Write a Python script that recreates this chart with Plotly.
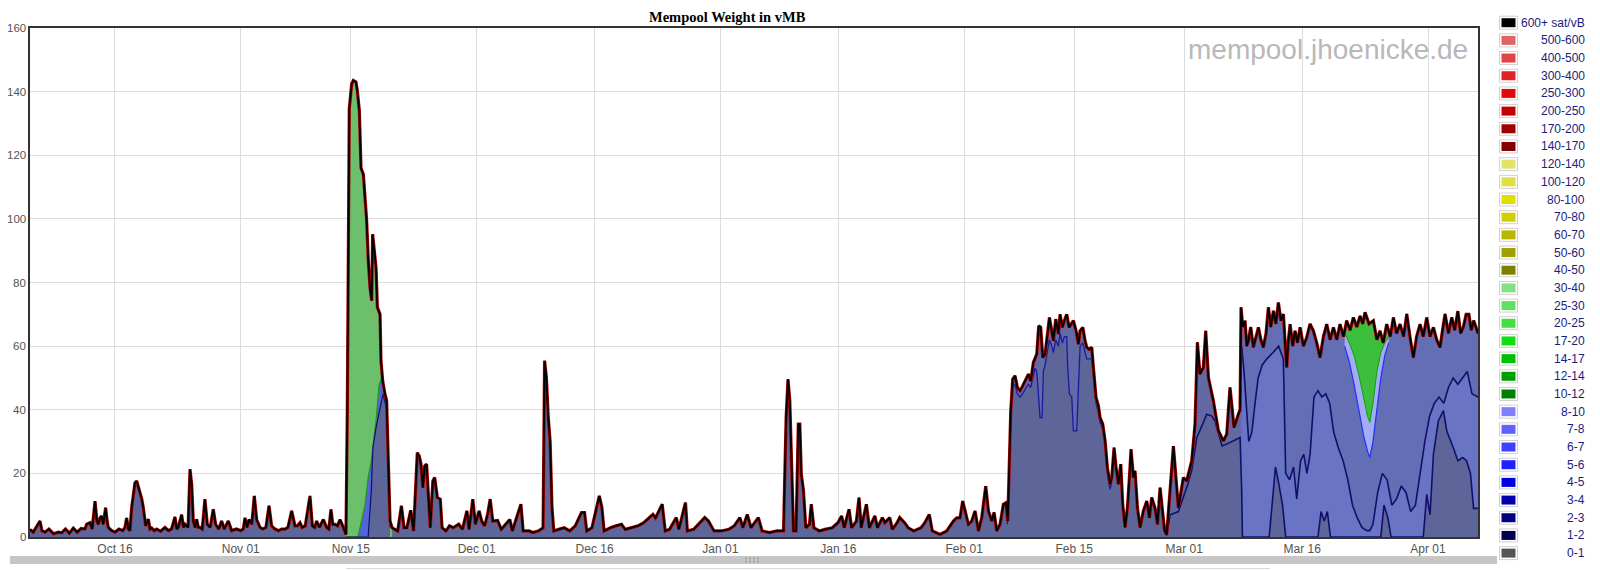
import pandas as pd
import plotly.graph_objects as go

# ---------------- data (days since 2022-10-01, vMB) ----------------
BASE = pd.Timestamp("2022-10-01")

total_day = [4.19,4.6,4.82,5.46,5.7,6.1,6.6,7.2,7.8,8.22,8.7,9.2,9.7,10.2,10.7,11.18,11.4,11.82,12.1,12.46,12.7,12.88,13.1,13.3,13.5,13.81,14.0,14.15,14.57,15.0,15.5,16.0,16.27,16.48,16.7,16.9,17.12,17.54,17.76,18.0,18.18,18.4,18.6,18.9,19.24,19.45,19.66,20.0,20.3,20.8,21.36,21.8,22.2,22.63,22.85,23.05,23.48,23.7,23.9,24.3,24.54,24.75,24.96,25.2,25.38,25.6,25.81,26.1,26.44,26.74,27.1,27.5,27.8,28.2,28.56,28.9,29.41,29.83,30.47,31.0,31.32,31.53,31.8,32.04,32.4,32.72,33.02,33.44,33.8,34.2,34.59,34.92,35.35,35.8,36.2,36.62,37.0,37.47,37.89,38.2,38.53,38.8,39.2,39.8,40.1,40.4,40.65,41.0,41.5,41.92,42.2,42.47,42.7,42.98,43.3,43.62,44.04,
             44.38,44.55,44.68,44.8,45.1,45.31,45.65,45.82,46.08,46.29,46.59,46.8,47.01,47.22,47.43,47.65,47.77,47.94,48.2,48.37,48.71,48.83,49.05,49.34,49.55,49.76,49.98,50.25,50.96,
             51.43,51.76,52.13,52.61,52.98,53.45,53.69,53.92,54.16,54.39,54.63,54.86,55.1,55.43,55.66,56.0,56.37,56.6,57.08,57.55,58.02,58.72,59.19,59.76,60.04,60.51,60.84,61.31,61.64,62.02,62.39,62.72,63.05,63.66,64.13,65.22,65.54,66.63,66.91,67.66,68.13,68.84,69.45,69.64,69.87,70.11,70.34,70.58,70.81,71.43,72.13,72.84,73.54,74.34,74.72,75.0,75.66,76.6,76.93,77.21,78.01,78.72,79.42,79.9,80.84,81.54,82.25,83.42,83.75,84.6,84.98,85.54,86.39,86.72,87.56,87.8,88.6,89.54,90.01,90.48,91.19,92.13,93.07,93.77,94.48,94.86,95.42,95.89,96.83,97.3,98.24,99.18,
             100.03,100.36,100.6,100.83,101.07,101.3,101.63,101.91,102.1,102.29,102.57,102.86,103.33,103.56,103.89,104.6,105.3,106.24,106.95,107.42,107.75,108.36,108.69,109.3,109.63,109.91,110.57,110.95,111.65,111.98,112.6,112.92,113.54,113.87,114.48,114.81,115.42,115.89,116.59,117.53,118.0,118.57,118.95,119.94,120.79,121.64,122.06,122.48,122.82,123.12,123.54,123.97,124.39,124.82,125.24,125.75,126.09,126.51,126.81,127.15,127.57,128.0,128.33,128.55,
             128.72,128.93,129.18,129.48,129.78,130.12,130.45,130.88,131.18,131.47,131.81,132.24,132.49,132.74,133.0,133.3,133.59,133.85,134.14,134.36,134.65,134.99,135.2,135.5,135.75,136.05,136.35,136.6,136.9,137.24,137.54,137.75,138.09,138.38,138.6,138.89,139.23,139.44,139.78,140.08,140.29,140.63,140.93,141.22,141.56,141.78,142.07,142.33,142.62,142.92,143.17,143.47,143.77,144.02,144.23,144.53,144.74,145.04,145.38,145.8,146.23,146.57,146.86,147.29,147.6,147.92,148.2,148.5,148.77,
             149.62,150.25,150.89,151.31,151.95,152.37,152.67,153.0,153.43,153.73,154.07,154.7,155.34,155.98,156.4,156.82,157.33,157.88,158.1,
             158.22,158.45,158.73,158.95,159.16,159.45,159.79,160.1,160.43,160.75,161.06,161.4,161.7,162.0,162.34,162.65,162.97,163.3,163.61,163.85,164.03,164.25,164.46,164.8,165.09,165.4,165.73,166.15,166.57,167.0,167.42,167.85,168.27,168.7,169.12,169.55,169.97,170.4,170.81,171.25,171.66,172.1,172.51,172.95,173.36,173.7,173.99,174.5,175.05,175.5,175.9,176.3,176.75,177.2,177.6,178.0,178.45,178.9,179.3,179.7,180.14,180.55,180.99,181.4,181.84,182.25,182.69,183.1,183.53,183.85,184.17,184.6,185.02,185.4,185.8,186.15,186.5,186.85,187.2,187.5,187.8,188.1,188.36]
total_vmb = [2.4,1.5,2.4,5.0,2.0,1.5,2.5,1.0,1.5,1.3,2.5,1.2,2.8,1.5,2.7,2.5,4.0,4.5,2.5,11.3,5.0,4.0,6.0,6.6,4.0,9.2,5.0,3.0,2.0,1.5,2.5,2.0,3.0,6.0,2.5,2.0,9.2,17.0,17.6,15.5,14.5,12.0,9.2,3.5,5.6,2.5,2.8,2.0,2.5,1.8,3.0,2.0,2.5,6.3,2.5,3.0,7.0,3.0,4.0,3.0,21.3,16.6,5.0,3.0,5.6,3.0,3.0,2.5,11.9,4.0,3.0,8.7,4.0,2.5,5.0,2.5,5.0,2.0,2.5,2.0,2.5,6.0,3.0,5.5,4.0,12.9,5.5,3.0,2.5,3.0,9.8,3.5,2.5,2.0,2.5,2.5,3.0,8.2,3.5,3.5,4.5,3.0,3.5,12.9,3.5,3.0,5.0,3.0,5.5,3.0,2.5,8.7,4.0,4.0,3.5,5.5,3.0,
             0.8,40,110,134.6,142.4,143.5,143.0,140.3,134.0,116.0,114.0,105.7,99.4,86.8,78.5,74.3,95.2,91.0,84.7,72.2,70.0,55.4,49.0,44.9,42.8,23.9,5.0,2.9,1.9,
             9.8,2.9,2.9,8.4,1.9,26.5,25.5,22.9,15.5,22.3,22.9,14.5,2.9,17.6,18.7,12.4,11.9,2.9,1.9,3.5,2.9,4.0,2.4,8.2,2.4,11.9,4.0,8.2,5.0,3.5,7.1,11.9,5.0,5.2,2.4,5.5,1.9,10.3,1.9,1.9,1.4,1.9,2.9,55.4,50.1,37.5,30.2,9.2,1.9,2.4,2.9,1.9,3.5,7.7,7.7,1.9,2.9,12.9,9.2,1.9,2.9,3.5,4.0,2.4,2.9,3.5,4.5,7.1,6.0,10.3,1.9,2.4,6.1,2.4,10.8,1.9,2.4,5.0,6.1,5.0,1.9,1.9,2.4,3.5,6.1,2.9,7.1,2.9,6.1,1.9,1.4,1.9,
             1.9,37.5,49.6,42.8,19.7,1.9,1.9,35.5,35.5,19.7,14.5,2.9,4.0,10.3,2.9,1.9,2.4,2.9,4.5,6.6,2.9,8.7,2.9,5.0,12.4,2.9,10.3,2.9,6.6,2.9,6.1,4.5,6.1,2.4,4.5,6.1,4.5,2.9,1.9,2.9,4.5,7.1,1.9,0.8,1.9,5.0,6.0,6.0,11.3,8.2,4.0,5.0,8.2,1.9,6.0,16.0,8.2,5.0,7.7,1.9,4.0,10.3,10.8,5.0,
             18.7,39.6,49.6,50.7,47.0,46.0,47.5,50.0,51.2,49.0,54.9,57.5,66.4,65.9,56.4,57.5,62.7,69.0,64.8,61.7,68.5,63.8,70.0,65.9,68.0,70.0,65.9,66.9,68.0,64.8,60.6,64.8,65.9,61.7,59.6,59.0,59.6,53.3,43.8,41.2,37.5,35.5,30.2,21.8,16.6,18.7,28.1,21.8,16.6,22.9,10.3,3.0,9.2,18.7,27.6,18.7,20.8,9.2,3.0,8.2,11.3,6.0,12.4,9.0,4.0,15.5,8.0,2.0,0.8,
             28.6,9.2,18.7,17.6,23.9,35.5,61.2,51.2,53.3,64.8,50.1,42.8,33.4,30.2,32.3,47.0,34.4,38.6,40.0,
             72.2,66,68,60,61.7,66,59.6,63,65.9,62,59.6,64,72.2,66,71.1,67,73.7,68,70.1,60,53.3,62,66.9,60,64.8,61,65.9,60,62.7,67,64.8,61,56.4,63,66.9,62,65.9,62,66.9,63,68,65,69,66,69.5,67,70.6,67,68,62,64.8,61,66.9,63,69,64,66.9,63,70.1,63,56.4,63,66.9,63,69,63,65.9,62,59.6,65,70.1,64,69,65,71,64,66,70,70,65,68,66,64]

# Nov spike: top of the 0-1 band and top of the blue (1-10 sat/vB) bands
nov_b0_day = [44.4,46.8,47.2,47.6,47.8,48.2,48.7,49.1,49.55,49.76,49.98]
nov_b0_vmb = [0,0,0,14.5,28,34.4,40.7,45,40,21,3]
nov_g_day = [44.4,45.9,46.8,47.2,47.6,48.2,48.6,48.9,49.3,49.55,49.76,49.98]
nov_g_vmb = [0,0,10,18.7,24,36.5,48,50,44,41,22,4]

# Feb block: top of the 0-1 band
feb_b0_day = [128.5,128.72,128.93,129.18,129.48,129.78,130.12,130.45,130.88,131.18,131.47,131.81,132.02,132.24,132.45,132.66,132.91,133.08,133.3,133.59,133.85,134.14,134.36,134.65,134.99,135.2,135.5,135.75,136.05,136.18,136.39,136.69,136.9,137.32,137.54,137.75,138.09,138.38,138.6,138.89,139.23,139.44,139.78,140.08,140.29,140.63,140.93,141.22,141.56,141.78]
feb_b0_vmb = [4,16,37,47,48,45,44,45,47,48,47,51,53,52,44,37.5,37.5,52,54,58,62,60,58,62,60,64,61,63,63,53,45,44,33.4,33.4,49,60,61,58,56,56,56,51,42,39,36,34,29,20,15,17]

# Mar/Apr: top of the 0-1 band, top of the 1-2 band
mar_b0_day = [147.92,148.5,148.77,149.2,150.25,150.89,151.5,151.95,152.15,152.6,153.43,153.85,154.5,154.9,155.3,155.8,156.4,157.25,158.1,158.3,158.4,161.8,162.2,162.6,163.0,163.5,163.9,168.0,168.4,168.8,169.2,169.6,176.0,176.4,176.9,177.3,181.0,181.4,181.84,182.26,182.69,183.32,183.96,184.38,185.23,185.8,186.4,186.9,187.4,187.8,188.36]
mar_b0_vmb = [12,2,0.5,7,8,12.4,17,21,23.9,31.3,36,38.6,38,36.5,33,28.6,29.2,30.2,31.3,15,0,0,12,22,17,10,0,0,8,5,8,0,0,10,6,0,0,0,13.4,7,26,36.5,39.7,33.4,28,24,25,24,20,9,9]
mar_b1_day = [158.3,158.6,159.2,159.6,160.0,160.4,160.9,161.5,162.3,163.0,163.6,163.9,164.4,164.9,165.3,165.8,166.2,166.6,167.0,167.5,168.0,168.5,169.0,169.5,170.0,170.6,171.2,171.8,172.4,173.0,173.6,174.2,174.6,175.0,175.6,176.2,176.8,177.4,178.0,178.6,179.2,179.8,180.4,181.0,181.6,182.2,182.8,183.4,184.0,184.6,185.2,185.8,186.4,187.0,187.6,188.36]
mar_b1_vmb = [60,52,30,33,42,50,54,56,58,60,56,20,18,22,12,24,26,20,26,44,46,44,45,42,33,28,24,18,10,6,3,2,2,4,14,20,18,10,12,16,14,8,10,20,30,38,42,44,42,47,50,48,50,52,45,44]
# Mar V: bottom of the green bands, bottom of the light blue bands
v_green_day = [171.4,172.0,172.6,173.2,173.8,174.3,174.6,175.0,175.5,176.0,176.5,177.0]
v_green_vmb = [64,61,57,51,44,38,36,42,52,58,61,63]
v_light_vmb = [60,55,48,40,32,27,25,30,40,50,57,61]

tick_dates = ["2022-10-16","2022-11-01","2022-11-15","2022-12-01","2022-12-16","2023-01-01",
              "2023-01-16","2023-02-01","2023-02-15","2023-03-01","2023-03-16","2023-04-01"]
tick_text = ["Oct 16","Nov 01","Nov 15","Dec 01","Dec 16","Jan 01","Jan 16","Feb 01","Feb 15","Mar 01","Mar 16","Apr 01"]
y_ticks = [0, 20, 40, 60, 80, 100, 120, 140, 160]

legend_labels = ["600+ sat/vB","500-600","400-500","300-400","250-300","200-250","170-200","140-170",
                 "120-140","100-120","80-100","70-80","60-70","50-60","40-50","30-40","25-30","20-25",
                 "17-20","14-17","12-14","10-12","8-10","7-8","6-7","5-6","4-5","3-4","2-3","1-2","0-1"]
legend_colors = ["#000000","#e06464","#e04444","#e02424","#e00c0c","#c40000","#a00000","#800000",
                 "#e2e266","#e0e044","#e0e000","#d0d000","#b8b800","#a0a000","#808000","#84e084",
                 "#60e060","#40e040","#10e010","#00c000","#00a000","#008000","#8080ff","#6060ff",
                 "#4040ff","#2020ff","#0000e0","#0000b0","#000080","#000050","#555555"]

# ---------------- helpers ----------------
def dt(days):
    return [BASE + pd.Timedelta(days=d) for d in days]

def window(days, vals, a, b):
    pts = [(d, v) for d, v in zip(days, vals) if a <= d <= b]
    return [p[0] for p in pts], [p[1] for p in pts]

SLATE = "#5e6598"
BODY = "#646eb4"
NAVY = "#10106a"
BRIGHT = "#2030ff"
GREEN = "#6cc06c"

fig = go.Figure()

def area(days, vals, fill, line_color=None, lw=0, mode="tozeroy"):
    fig.add_trace(go.Scatter(x=dt(days), y=vals, mode="lines", fill=mode, fillcolor=fill,
                             line=dict(color=line_color or fill, width=lw), hoverinfo="skip",
                             showlegend=False))

# whole mempool
area(total_day, total_vmb, SLATE)

# Nov spike
d, v = window(total_day, total_vmb, 44.3, 50.3)
area(d, v, GREEN)
area(nov_g_day, nov_g_vmb, "#5563d8", "#1a9a1a", 1.2)
area(nov_b0_day, nov_b0_vmb, SLATE, NAVY, 1.2)

# Feb block
d, v = window(total_day, total_vmb, 128.4, 142.0)
area(d, v, "#626ba8")
area(feb_b0_day, feb_b0_vmb, SLATE, "#1a1aa0", 1.3)

# Mar / Apr
d, v = window(total_day, total_vmb, 147.9, 158.1)
area(d, v, "#6168a3")
d, v = window(total_day, total_vmb, 158.1, 188.4)
area(d, v, BODY)
d, v = window(total_day, total_vmb, 171.3, 177.1)
fig.add_trace(go.Scatter(x=dt(d), y=v, mode="lines", line=dict(width=0), hoverinfo="skip", showlegend=False))
fig.add_trace(go.Scatter(x=dt(v_green_day), y=v_green_vmb, mode="lines", fill="tonexty",
                         fillcolor="#3cbf3c", line=dict(color="#10a010", width=1),
                         hoverinfo="skip", showlegend=False))
fig.add_trace(go.Scatter(x=dt(v_green_day), y=v_light_vmb, mode="lines", fill="tonexty",
                         fillcolor="#a4acf2", line=dict(color=BRIGHT, width=1.2),
                         hoverinfo="skip", showlegend=False))
area(mar_b1_day, mar_b1_vmb, "#6a74c4", NAVY, 1.6)
area(mar_b0_day, mar_b0_vmb, SLATE, NAVY, 1.6)

# top edge
fig.add_trace(go.Scatter(x=dt(total_day), y=total_vmb, mode="lines",
                         line=dict(color="#b00000", width=3.2), hoverinfo="skip", showlegend=False))
fig.add_trace(go.Scatter(x=dt(total_day), y=total_vmb, mode="lines",
                         line=dict(color="#000000", width=1.8), hoverinfo="skip", showlegend=False))

# ---------------- layout (page has an 8px body margin) ----------------
OFF = 8
FW, FH = 1600 - OFF, 570 - OFF
PX0, PX1, PY0, PY1 = 30, 1478, 28, 537          # plot area in page pixels
L, R, T, B = PX0 - OFF, FW - (PX1 - OFF), PY0 - OFF, FH - (PY1 - OFF)
PW, PH = PX1 - PX0, PY1 - PY0
def px(x): return (x - PX0) / PW
def py(y): return (PY1 - y) / PH

shapes = []
annots = []
# y tick labels
for t in y_ticks:
    annots.append(dict(text=str(t), xref="paper", yref="y", x=px(27.5), y=t, xanchor="right",
                       yanchor="middle", showarrow=False,
                       font=dict(family="Liberation Sans, Arial", size=11.5, color="#545454")))
for i, (lab, col) in enumerate(zip(legend_labels, legend_colors)):
    yc = 22.7 + 17.68 * i
    shapes.append(dict(type="rect", xref="paper", yref="paper", x0=px(1499.5), x1=px(1517.5),
                       y0=py(yc + 6.5), y1=py(yc - 6.5), line=dict(color="#d0d0d0", width=1),
                       fillcolor="#ffffff", layer="above"))
    shapes.append(dict(type="rect", xref="paper", yref="paper", x0=px(1501.5), x1=px(1515.5),
                       y0=py(yc + 4.5), y1=py(yc - 4.5), line=dict(width=0),
                       fillcolor=col, layer="above"))
    annots.append(dict(text=lab, xref="paper", yref="paper", x=px(1587), y=py(yc),
                       xanchor="right", yanchor="middle", showarrow=False,
                       font=dict(family="Liberation Sans, Arial", size=12, color="#1c1c7c")))

# title (kept inside the figure's top edge)
annots.append(dict(text="<b>Mempool Weight in vMB</b>", xref="paper", yref="paper", x=px(727),
                   y=py(8), xanchor="center", yanchor="top", showarrow=False, borderpad=0,
                   font=dict(family="Liberation Serif, Times New Roman", size=14.5, color="#000")))
# watermark
annots.append(dict(text="mempool.jhoenicke.de", xref="paper", yref="paper", x=px(1470), y=py(49),
                   xanchor="right", yanchor="middle", showarrow=False,
                   font=dict(family="Liberation Sans, Arial", size=28, color="#b8b8b8")))
# range-bar at the bottom
shapes.append(dict(type="rect", xref="paper", yref="paper", x0=px(10), x1=px(1497), y0=py(556),
                   y1=py(564), line=dict(width=0), fillcolor="#c6c6c6", layer="above"))
shapes.append(dict(type="line", xref="paper", yref="paper", x0=px(346), x1=px(1270), y0=py(568.5),
                   y1=py(568.5), line=dict(color="#d8d8d8", width=1), layer="above"))
for gx in (745, 749, 753, 757):
    for gy in (558.5, 561.5):
        shapes.append(dict(type="rect", xref="paper", yref="paper", x0=px(gx), x1=px(gx + 1.5),
                           y0=py(gy + 0.8), y1=py(gy - 0.8), line=dict(width=0),
                           fillcolor="#8c8c8c", layer="above"))

fig.update_layout(
    width=FW, height=FH, margin=dict(l=L, r=R, t=T, b=B, autoexpand=False),
    paper_bgcolor="white", plot_bgcolor="white", showlegend=False,
    shapes=shapes, annotations=annots,
)
fig.update_xaxes(type="date", range=[BASE + pd.Timedelta(days=4.19), BASE + pd.Timedelta(days=188.36)],
                 tickvals=tick_dates, ticktext=tick_text, showgrid=True, gridcolor="#dcdcdc",
                 gridwidth=1, showline=True, linecolor="#333333", linewidth=1.5, mirror=True,
                 ticks="", automargin=False,
                 tickfont=dict(family="Liberation Sans, Arial", size=12, color="#545454"),
                 zeroline=False)
fig.update_yaxes(range=[0, 160], tickvals=y_ticks, showgrid=True, showticklabels=False,
                 gridcolor="#dcdcdc", gridwidth=1, showline=True, linecolor="#333333", linewidth=1.5,
                 mirror=True, ticks="", automargin=False, zeroline=False)

fig.write_html("out.html")
